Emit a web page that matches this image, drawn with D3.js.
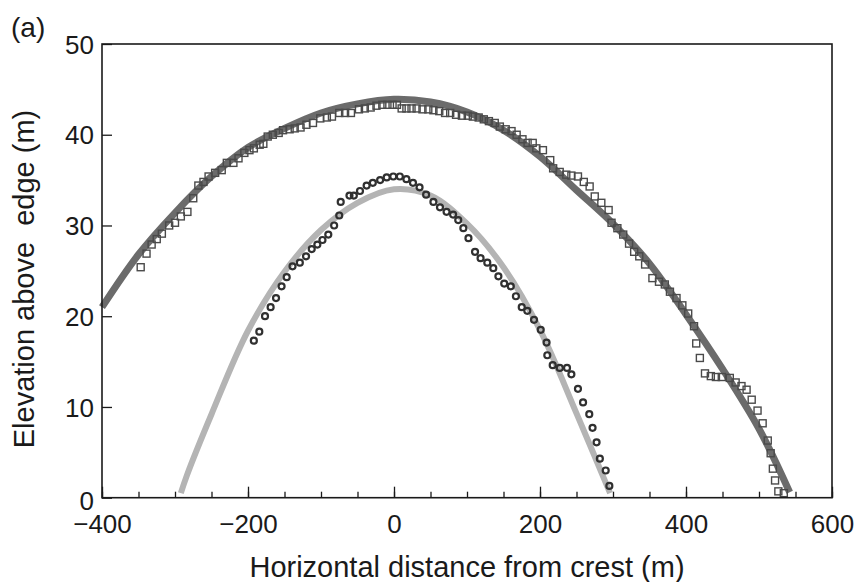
<!DOCTYPE html>
<html>
<head>
<meta charset="utf-8">
<script src="https://cdn.jsdelivr.net/npm/d3@7"></script>
<style>
  html, body { margin: 0; padding: 0; background: #fff; }
  svg { display: block; font-family: "Liberation Sans", Arial, Helvetica, sans-serif; }
</style>
</head>
<body>
<svg id="chart" width="858" height="582"></svg>
<script>
// ---- Data ----
const outerFitX = [-400,-350,-300,-250,-200,-150,-100,-50,0,50,100,150,200,250,300,350,400,450,500,542];
const outerFitY = [21.0,26.8,31.4,35.4,38.6,40.7,42.4,43.4,43.9,43.6,42.5,40.5,37.6,33.9,30.2,25.8,20.2,14.2,7.6,0.6];

const innerFitX = [-292,-284,-250,-200,-150,-100,-50,0,50,100,150,200,250,296];
const innerFitY = [0.5,2.4,9.2,18.4,24.9,29.5,32.5,34.0,33.3,30.2,25.4,18.5,9.3,0.5];

const squareX = [-347,-339,-332,-325,-318,-308,-300,-292,-283,-275,-268,-261,-254,-245,-236,-229,-220,-213,-205,-198,
  -192,-184,-179,-173,-166,-158,-152,-143,-136,-128,-120,-111,-101,-92,-85,-75,-67,-59,-48,-40,
  -32,-24,-16,-9,-2,4,10.5,17,24,31,39,47,54,62,70,77,85,93,101,108,
  116,123,130,138,145,153,161,168,176,183,190,195,204,214,218,227,236,243,252,260,
  268,275,284,294,298,306,314,322,329,336,344,354,363,371,378,387,395,403,411,414,
  419,426,434,441,449,460,468,476,483,490,498,505,512,516,519,522,526.5,534];
const squareY = [25.4,26.9,27.9,28.5,29.1,30.0,30.3,31.0,31.5,33.0,34.4,34.8,35.4,35.8,36.1,36.9,36.9,37.4,38.0,38.3,
  38.5,38.9,39.0,39.8,40.0,40.2,40.5,40.6,40.7,40.8,41.1,41.3,41.8,41.9,42.0,42.4,42.4,42.4,42.8,42.9,
  43.0,43.2,43.3,43.3,43.3,43.3,42.9,42.9,42.9,42.9,42.8,42.8,42.7,42.6,42.4,42.4,42.2,42.1,42.1,42.0,
  41.9,41.7,41.5,41.3,40.9,40.6,40.4,40.0,39.5,39.1,39.1,38.5,38.3,37.2,36.3,35.9,35.6,35.5,35.4,34.8,
  34.3,33.2,32.5,31.7,30.3,29.7,29.0,28.0,27.1,26.6,25.7,24.2,23.8,23.5,22.7,22.0,21.2,20.3,18.9,17.0,
  15.4,13.7,13.4,13.3,13.3,13.2,12.7,12.3,11.9,10.8,9.6,8.2,6.3,4.9,3.2,1.9,0.7,0.5];

const circleX = [-192,-184.5,-176.7,-169,-161.6,-154,-147,-139,-129,-120.5,-112.7,-105,-98,-90,-82,-75,-73,-61,-55,-46.6,
  -37.5,-29,-19,-10,-1,8,17,26,35,44,54,63,72,81,88,95,102,111,118.6,127.8,
  136,143,151,160,167,175,182.6,191.8,201,209,210,217.4,227,237,243,252,259,267.5,272,277.5,
  282,290,295];
const circleY = [17.3,18.3,20.0,21.0,22.0,23.3,24.3,25.5,25.9,26.6,27.4,27.9,28.4,29.0,30.0,31.1,32.6,33.3,33.3,33.8,
  34.4,34.7,35.0,35.3,35.4,35.4,35.1,34.7,34.2,33.4,32.6,32.0,31.5,31.2,30.6,29.7,28.6,27.1,26.4,25.9,
  25.3,24.4,23.6,23.3,22.2,21.0,20.6,19.6,18.5,17.1,15.7,14.6,14.3,14.3,13.6,12.0,10.5,9.2,7.7,6.1,
  4.3,3.0,1.3];

const xMajorTicks = [-400,-200,0,200,400,600];
const xMinorTicks = d3.range(-400, 601, 50);
const yTicks = [0,10,20,30,40,50];

const panelLabel = "(a)";
const xTitle = "Horizontal distance from crest (m)";
const yTitle = "Elevation above\u00a0 edge (m)";

// ---- Layout ----
const svg = d3.select("#chart");
const L = 102, R = 832, T = 44, B = 497.7;
const x = d3.scaleLinear().domain([-400, 600]).range([L, R]);
const y = d3.scaleLinear().domain([0, 50]).range([B, T]);
const FONT = "'Liberation Sans', Arial, Helvetica, sans-serif";

// ---- Fit lines ----
const line = d3.line().x(d => x(d[0])).y(d => y(d[1])).curve(d3.curveCatmullRom.alpha(0.5));
const outerFit = outerFitX.map((v, i) => [v, outerFitY[i]]);
const innerFit = innerFitX.map((v, i) => [v, innerFitY[i]]);

svg.append("path").datum(outerFit).attr("d", line)
  .attr("fill", "none").attr("stroke", "#6b6b6b").attr("stroke-width", 7)
  .attr("stroke-linecap", "butt").attr("stroke-linejoin", "round");
svg.append("path").datum(innerFit).attr("d", line)
  .attr("fill", "none").attr("stroke", "#b4b4b4").attr("stroke-width", 6)
  .attr("stroke-linecap", "butt").attr("stroke-linejoin", "round");

// ---- Markers ----
const sq = 7;
svg.append("g").selectAll("rect").data(squareX.map((v, i) => [v, squareY[i]])).join("rect")
  .attr("x", d => x(d[0]) - sq / 2).attr("y", d => y(d[1]) - sq / 2)
  .attr("width", sq).attr("height", sq)
  .attr("fill", "none").attr("stroke", "#4a4a4a").attr("stroke-width", 1.4);

svg.append("g").selectAll("circle").data(circleX.map((v, i) => [v, circleY[i]])).join("circle")
  .attr("cx", d => x(d[0])).attr("cy", d => y(d[1])).attr("r", 3.0)
  .attr("fill", "none").attr("stroke", "#303030").attr("stroke-width", 2.2);

// ---- Axes ----
const xMinor = svg.append("g").attr("transform", `translate(0,${B})`)
  .call(d3.axisBottom(x).tickValues(xMinorTicks).tickSize(-6).tickFormat(""));
xMinor.select(".domain").remove();
xMinor.selectAll("line").attr("stroke", "#1a1a1a").attr("stroke-width", 1.3);

const xMajor = svg.append("g").attr("transform", `translate(0,${B})`)
  .call(d3.axisBottom(x).tickValues(xMajorTicks).tickSize(-11).tickPadding(17));
xMajor.select(".domain").remove();
xMajor.selectAll("line").attr("stroke", "#1a1a1a").attr("stroke-width", 1.3);
xMajor.selectAll("text").attr("font-size", 26).attr("font-family", FONT).attr("fill", "#1a1a1a");

const yAx = svg.append("g").attr("transform", `translate(${L},0)`)
  .call(d3.axisLeft(y).tickValues(yTicks).tickSize(-10).tickPadding(8));
yAx.select(".domain").remove();
yAx.selectAll("line").attr("stroke", "#1a1a1a").attr("stroke-width", 1.3);
yAx.selectAll("text").attr("font-size", 26).attr("font-family", FONT).attr("fill", "#1a1a1a")
  .attr("dy", d => d === 0 ? "0.45em" : "0.35em");

// frame
svg.append("rect").attr("x", L).attr("y", T).attr("width", R - L).attr("height", B - T)
  .attr("fill", "none").attr("stroke", "#1a1a1a").attr("stroke-width", 1.6);

// ---- Titles ----
svg.append("text").attr("x", (L + R) / 2).attr("y", 577).attr("text-anchor", "middle")
  .attr("font-size", 29).attr("font-family", FONT).attr("fill", "#1a1a1a").text(xTitle);
svg.append("text").attr("transform", `translate(34,279) rotate(-90)`).attr("text-anchor", "middle")
  .attr("font-size", 29).attr("font-family", FONT).attr("fill", "#1a1a1a")
  .style("white-space", "pre").text(yTitle);
svg.append("text").attr("x", 11).attr("y", 37).attr("font-size", 28).attr("font-family", FONT)
  .attr("fill", "#1a1a1a").text(panelLabel);
</script>
</body>
</html>
